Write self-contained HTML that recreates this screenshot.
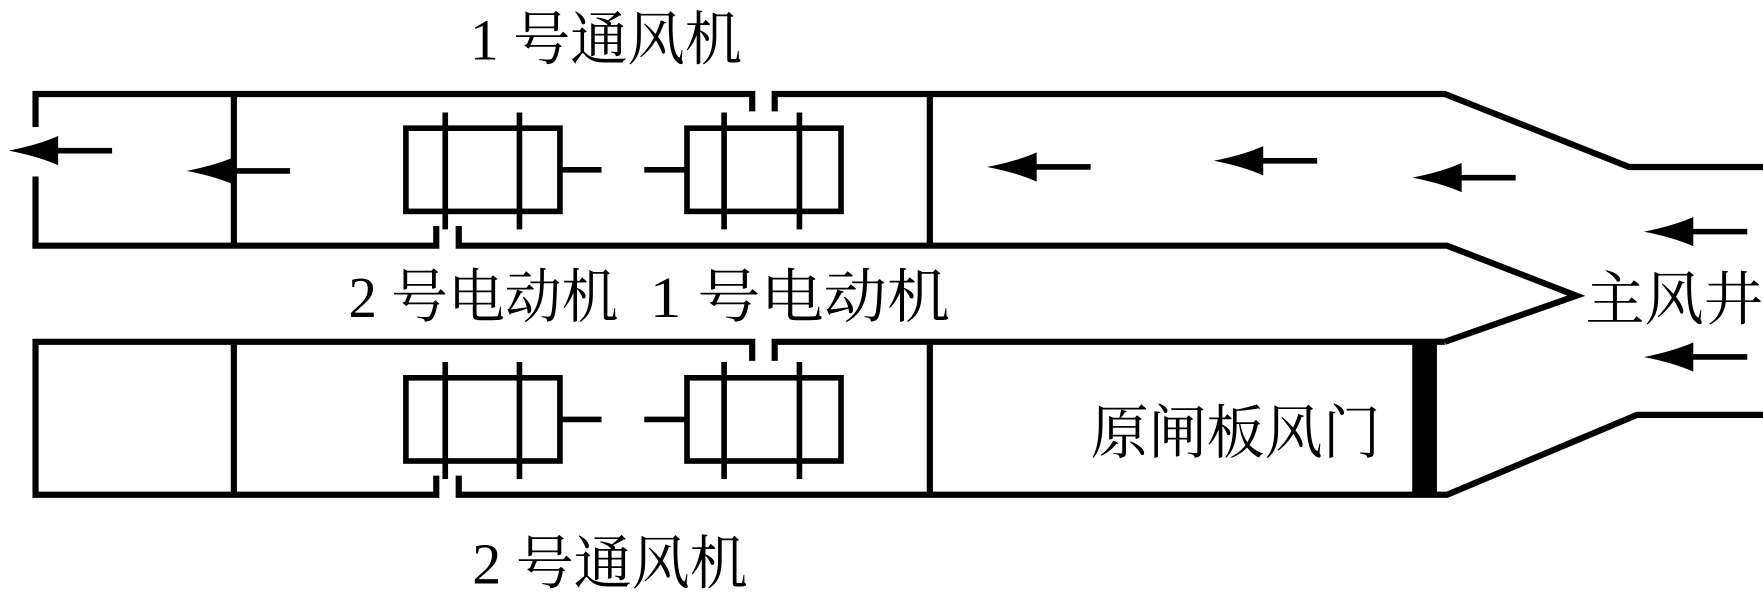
<!DOCTYPE html>
<html><head><meta charset="utf-8"><style>
html,body{margin:0;padding:0;background:#fff;}
svg{display:block;}
text{font-family:"Liberation Serif","Noto Serif CJK SC",serif;font-size:52px;fill:#000;}
</style></head><body>
<svg width="1763" height="602" viewBox="0 0 1568 535.4" preserveAspectRatio="none" xmlns="http://www.w3.org/2000/svg">
<defs>
<g id="arr"><path d="M0 0 Q26 -5 44 -13 L44 -2.5 L92 -2.5 L92 2.5 L44 2.5 L44 13 Q26 5 0 0 Z" fill="#000"/></g>
<g id="motor" fill="none" stroke="#000" stroke-width="5">
<rect x="361" y="0" width="137" height="74"/>
<line x1="396" y1="-14" x2="396" y2="90"/><line x1="462" y1="-14" x2="462" y2="90"/>
<line x1="498" y1="37" x2="535" y2="37"/>
<rect x="611" y="0" width="137" height="74"/>
<line x1="644" y1="-14" x2="644" y2="90"/><line x1="711" y1="-14" x2="711" y2="90"/>
<line x1="573" y1="37" x2="611" y2="37"/>
</g>
</defs>
<g fill="none" stroke="#000" stroke-width="5.5" stroke-linejoin="miter">
<polyline points="31.6,113 31.6,83.6 669,83.6 669,99"/>
<polyline points="689,99 689,83.6 1285,83.6 1449,148.5 1568,148.5"/>
<line x1="31.6" y1="157" x2="31.6" y2="218.5"/>
<polyline points="28.8,218.5 388,218.5 388,201"/>
<polyline points="408,201 408,218.5 1287,218.5 1402,263 1285,304"/>
<line x1="208" y1="83.6" x2="208" y2="218.5"/>
<line x1="827" y1="83.6" x2="827" y2="218.5"/>
<polyline points="669,321 669,304 31.6,304 31.6,440 388,440 388,423"/>
<polyline points="689,321 689,304 1285,304"/>
<polyline points="408,423 408,440 1287,440 1456,369 1568,369"/>
<line x1="208" y1="304" x2="208" y2="440"/>
<line x1="827" y1="304" x2="827" y2="440"/>
</g>
<rect x="1256" y="304" width="22" height="136" fill="#000"/>
<use href="#motor" transform="translate(0,114)"/>
<use href="#motor" transform="translate(0,336)"/>
<use href="#arr" transform="translate(7.7,134)"/>
<use href="#arr" transform="translate(166,152)"/>
<use href="#arr" transform="translate(878,148.5)"/>
<use href="#arr" transform="translate(1079.5,143)"/>
<use href="#arr" transform="translate(1256,158)"/>
<use href="#arr" transform="translate(1462,206)"/>
<use href="#arr" transform="translate(1462,317.5)"/>
<text x="418" y="53" textLength="242" lengthAdjust="spacingAndGlyphs">1 号通风机</text>
<text x="310" y="282" textLength="240" lengthAdjust="spacingAndGlyphs">2 号电动机</text>
<text x="578" y="282" textLength="267" lengthAdjust="spacingAndGlyphs">1 号电动机</text>
<text x="1410" y="284" textLength="158" lengthAdjust="spacingAndGlyphs">主风井</text>
<text x="970" y="403" textLength="258" lengthAdjust="spacingAndGlyphs">原闸板风门</text>
<text x="420" y="519" textLength="245" lengthAdjust="spacingAndGlyphs">2 号通风机</text>
</svg>
</body></html>
